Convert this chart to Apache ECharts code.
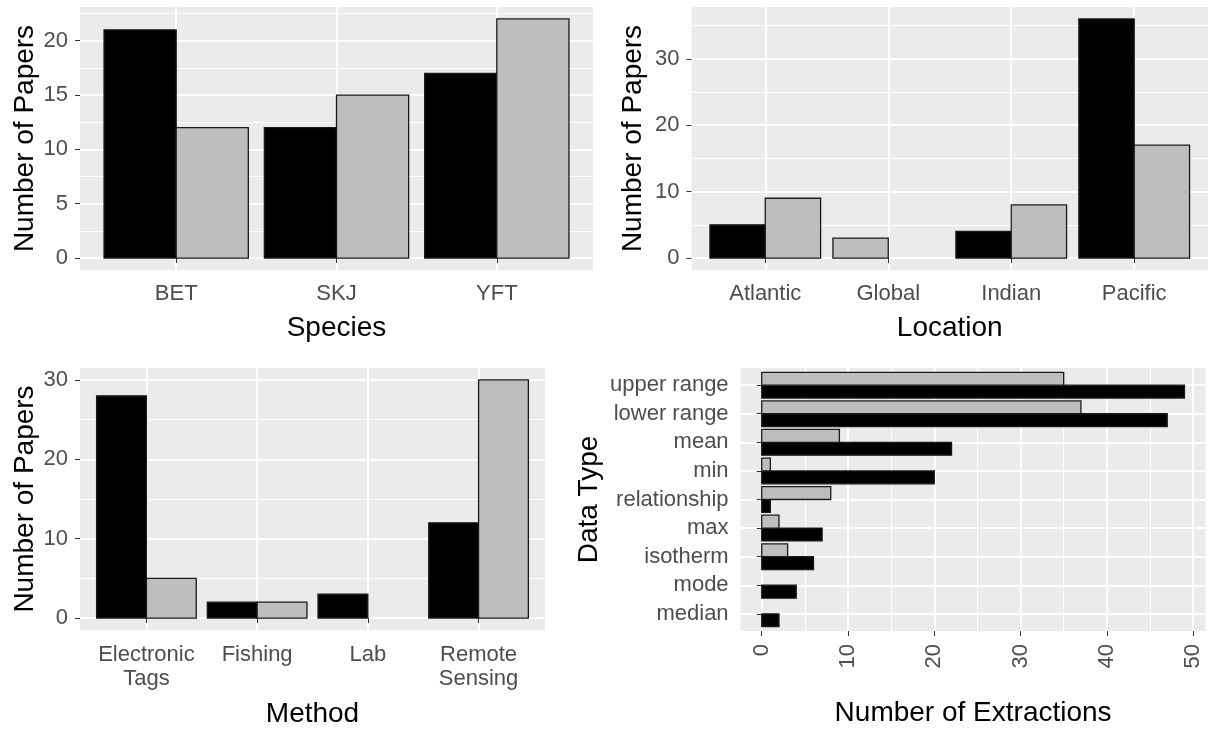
<!DOCTYPE html>
<html>
<head>
<meta charset="utf-8">
<script src="https://cdn.jsdelivr.net/npm/echarts@6/dist/echarts.min.js"></script>
<style>
  html, body { margin: 0; padding: 0; background: #ffffff; }
  #chart { width: 1213px; height: 729px; }
</style>
</head>
<body>
<div id="chart"></div>
<script>
// ---- data -------------------------------------------------------------
const speciesCats   = ['BET', 'SKJ', 'YFT'];
const speciesDark   = [21, 12, 17];
const speciesLight  = [12, 15, 22];
const speciesTicks  = [0, 5, 10, 15, 20];

const locationCats  = ['Atlantic', 'Global', 'Indian', 'Pacific'];
const locationDark  = [5, null, 4, 36];
const locationLight = [9, 3, 8, 17];
const locationTicks = [0, 10, 20, 30];

const methodCats    = ['Electronic\nTags', 'Fishing', 'Lab', 'Remote\nSensing'];
const methodDark    = [28, 2, 3, 12];
const methodLight   = [5, 2, null, 30];
const methodTicks   = [0, 10, 20, 30];

// listed top to bottom as they appear on the axis
const dataTypeCats  = ['upper range', 'lower range', 'mean', 'min', 'relationship', 'max', 'isotherm', 'mode', 'median'];
const dataTypeDark  = [49, 47, 22, 20, 1, 7, 6, 4, 2];
const dataTypeLight = [35, 37, 9, 1, 8, 2, 3, null, null];
const extractionTicks = [0, 10, 20, 30, 40, 50];

// ---- styling ----------------------------------------------------------
const FONT = '"Liberation Sans", Arial, Helvetica, sans-serif';
const PANEL_BG = '#EBEBEB';
const DARK_FILL = '#000000';
const LIGHT_FILL = '#BEBEBE';
const OUTLINE = '#1a1a1a';
const TICK_COLOR = '#333333';
const LABEL_COLOR = '#4D4D4D';
const DODGE = 0.9;          // total width taken by a category's bars
const EXPAND_DISCRETE = 0.6;
const EXPAND_CONT = 0.05;

// Dodged slots: the first present group takes the first slot.
function dodgeItems(dark, light, posOf, horizontal) {
  const darkItems = [], lightItems = [];
  dark.forEach((v, i) => {
    const pos = posOf(i);
    const hasDark = v != null;
    if (hasDark) darkItems.push(horizontal ? [v, pos, 0] : [pos, v, 0]);
    const w = light[i];
    if (w != null) {
      const slot = hasDark ? 1 : 0;
      lightItems.push(horizontal ? [w, pos, slot] : [pos, w, slot]);
    }
  });
  return { darkItems, lightItems };
}

function barRenderer(horizontal, fill) {
  return function (params, api) {
    const pos = api.value(horizontal ? 1 : 0);
    const val = api.value(horizontal ? 0 : 1);
    const slot = api.value(2);
    const a = pos - DODGE / 2 + slot * DODGE / 2;
    const b = a + DODGE / 2;
    const p1 = horizontal ? api.coord([0, a]) : api.coord([a, 0]);
    const p2 = horizontal ? api.coord([val, b]) : api.coord([b, val]);
    const x = Math.min(p1[0], p2[0]);
    const y = Math.min(p1[1], p2[1]);
    return {
      type: 'rect',
      shape: { x: x, y: y, width: Math.abs(p2[0] - p1[0]), height: Math.abs(p2[1] - p1[1]) },
      style: { fill: fill, stroke: OUTLINE, lineWidth: 1.3 }
    };
  };
}

function positions(n) {
  const out = [];
  for (let i = 1; i <= n; i++) out.push(i);
  return out;
}

function discreteAxis(gridIndex, cats, labelFormatter, extra) {
  const n = cats.length;
  const pos = positions(n);
  return Object.assign({
    type: 'value',
    gridIndex: gridIndex,
    min: 1 - EXPAND_DISCRETE,
    max: n + EXPAND_DISCRETE,
    minInterval: 1,
    maxInterval: 1,
    axisLine: { show: false },
    axisTick: { show: true, length: 5, customValues: pos, lineStyle: { color: TICK_COLOR, width: 1 } },
    axisLabel: {
      customValues: pos,
      formatter: labelFormatter,
      color: LABEL_COLOR, fontSize: 22, fontFamily: FONT
    },
    splitLine: { show: true, lineStyle: { color: '#ffffff', width: 2 } },
    nameLocation: 'middle',
    nameTextStyle: { color: '#000000', fontSize: 28, fontFamily: FONT }
  }, extra);
}

function continuousAxis(gridIndex, ticks, maxVal, extra) {
  const step = ticks[1] - ticks[0];
  return Object.assign({
    type: 'value',
    gridIndex: gridIndex,
    min: -EXPAND_CONT * maxVal,
    max: maxVal * (1 + EXPAND_CONT),
    minInterval: step,
    maxInterval: step,
    axisLine: { show: false },
    axisTick: { show: true, length: 5, customValues: ticks, lineStyle: { color: TICK_COLOR, width: 1 } },
    axisLabel: { customValues: ticks, color: LABEL_COLOR, fontSize: 22, fontFamily: FONT },
    splitLine: { show: true, lineStyle: { color: '#ffffff', width: 2 } },
    minorTick: { show: false, splitNumber: 2 },
    minorSplitLine: { show: true, lineStyle: { color: '#ffffff', width: 1 } },
    nameLocation: 'middle',
    nameTextStyle: { color: '#000000', fontSize: 28, fontFamily: FONT }
  }, extra);
}

function maxOf(a, b) {
  return Math.max(...a.filter(v => v != null), ...b.filter(v => v != null));
}

// ---- panels -----------------------------------------------------------
const grids = [
  { left: 80,    top: 7,   width: 513,   height: 263 },
  { left: 691.5, top: 7,   width: 516.5, height: 263 },
  { left: 80,    top: 368, width: 465,   height: 262 },
  { left: 740.6, top: 368, width: 465,   height: 263 }
].map(g => Object.assign({ show: true, backgroundColor: PANEL_BG, borderWidth: 0 }, g));

const speciesBars  = dodgeItems(speciesDark, speciesLight, i => i + 1, false);
const locationBars = dodgeItems(locationDark, locationLight, i => i + 1, false);
const methodBars   = dodgeItems(methodDark, methodLight, i => i + 1, false);
const dataTypeBars = dodgeItems(dataTypeDark, dataTypeLight, i => dataTypeCats.length - i, true);

const xAxes = [
  discreteAxis(0, speciesCats, v => speciesCats[v - 1], { name: 'Species', nameGap: 44 }),
  discreteAxis(1, locationCats, v => locationCats[v - 1], { name: 'Location', nameGap: 44 }),
  discreteAxis(2, methodCats, v => methodCats[v - 1], { name: 'Method', nameGap: 70 }),
  continuousAxis(3, extractionTicks, maxOf(dataTypeDark, dataTypeLight), { name: 'Number of Extractions', nameGap: 68 })
];
xAxes[0].axisLabel.margin = 13;
xAxes[1].axisLabel.margin = 13;
xAxes[2].axisLabel.margin = 13;
xAxes[2].axisLabel.lineHeight = 24;
xAxes[3].axisLabel.margin = 13;
xAxes[3].axisLabel.rotate = 90;

const yAxes = [
  continuousAxis(0, speciesTicks, maxOf(speciesDark, speciesLight), { name: 'Number of Papers', nameGap: 40 }),
  continuousAxis(1, locationTicks, maxOf(locationDark, locationLight), { name: 'Number of Papers', nameGap: 44 }),
  continuousAxis(2, methodTicks, maxOf(methodDark, methodLight), { name: 'Number of Papers', nameGap: 40 }),
  discreteAxis(3, dataTypeCats, v => dataTypeCats[dataTypeCats.length - v], { name: 'Data Type', nameGap: 137 })
];
yAxes.forEach(a => { a.axisLabel.margin = 12; });

function barSeries(idx, items, fill, horizontal) {
  return {
    type: 'custom',
    xAxisIndex: idx,
    yAxisIndex: idx,
    data: items,
    encode: { x: 0, y: 1 },
    renderItem: barRenderer(horizontal, fill),
    silent: true,
    animation: false
  };
}

const series = [
  barSeries(0, speciesBars.darkItems, DARK_FILL, false),
  barSeries(0, speciesBars.lightItems, LIGHT_FILL, false),
  barSeries(1, locationBars.darkItems, DARK_FILL, false),
  barSeries(1, locationBars.lightItems, LIGHT_FILL, false),
  barSeries(2, methodBars.darkItems, DARK_FILL, false),
  barSeries(2, methodBars.lightItems, LIGHT_FILL, false),
  barSeries(3, dataTypeBars.darkItems, DARK_FILL, true),
  barSeries(3, dataTypeBars.lightItems, LIGHT_FILL, true)
];

const chart = echarts.init(document.getElementById('chart'), null, { renderer: 'canvas' });
chart.setOption({
  backgroundColor: '#ffffff',
  animation: false,
  textStyle: { fontFamily: FONT },
  grid: grids,
  xAxis: xAxes,
  yAxis: yAxes,
  series: series
});
</script>
</body>
</html>
